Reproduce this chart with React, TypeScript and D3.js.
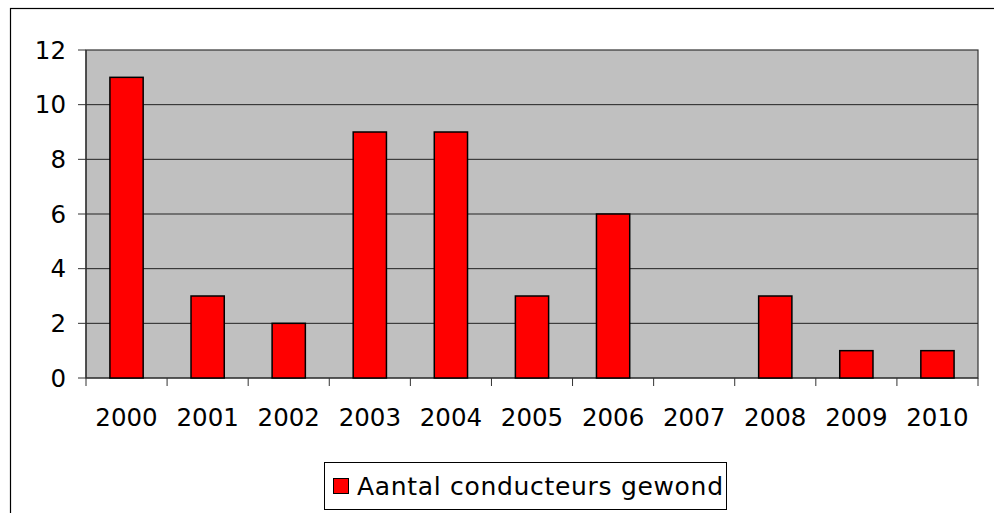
import React from "react";
import * as d3 from "d3";

const categories = ["2000", "2001", "2002", "2003", "2004", "2005", "2006", "2007", "2008", "2009", "2010"];
const values = [11, 3, 2, 9, 9, 3, 6, 0, 3, 1, 1];
const yTicks = [0, 2, 4, 6, 8, 10, 12];
const seriesName = "Aantal conducteurs gewond";

export default function App() {
  const W = 994, H = 513;
  const left = 86, right = 978, top = 50, bottom = 378;
  const x = d3.scaleBand().domain(categories).range([left, right]).paddingInner(0.59).paddingOuter(0.295);
  const xb = d3.scaleBand().domain(categories).range([left, right]);
  const y = d3.scaleLinear().domain([0, 12]).range([bottom, top]);
  const font = "Verdana, 'DejaVu Sans', sans-serif";
  return (
    <svg width={W} height={H} style={{ position: "absolute", left: 0, top: 0 }} fontFamily={font}>
      <rect x={0} y={0} width={W} height={H} fill="#fff" />
      <rect x={10.5} y={8.5} width={W + 20} height={H + 20} fill="none" stroke="#000" strokeWidth={1.2} />
      <rect x={left} y={top} width={right - left} height={bottom - top} fill="#C0C0C0" stroke="#333" strokeWidth={1.2} />
      {yTicks.map((t) => (
        <g key={t}>
          {t > 0 && t < 12 && <line x1={left} x2={right} y1={y(t)} y2={y(t)} stroke="#222" strokeWidth={1} />}
          <line x1={left - 8} x2={left} y1={y(t)} y2={y(t)} stroke="#333" strokeWidth={1} />
          <text x={66} y={y(t)} dy="0.36em" textAnchor="end" fontSize={24.5} fill="#000">{t}</text>
        </g>
      ))}
      <line x1={left} x2={left} y1={top} y2={bottom} stroke="#333" strokeWidth={1.2} />
      <line x1={left} x2={right} y1={bottom} y2={bottom} stroke="#333" strokeWidth={1.2} />
      {categories.map((c) => (
        <line key={"t" + c} x1={xb(c)!} x2={xb(c)!} y1={bottom} y2={bottom + 8} stroke="#333" strokeWidth={1} />
      ))}
      <line x1={right} x2={right} y1={bottom} y2={bottom + 8} stroke="#333" strokeWidth={1} />
      {categories.map((c, i) =>
        values[i] > 0 ? (
          <rect key={"b" + c} x={x(c)!} y={y(values[i])} width={x.bandwidth()} height={bottom - y(values[i])}
            fill="#FF0000" stroke="#000" strokeWidth={1.5} />
        ) : null
      )}
      {categories.map((c) => (
        <text key={"l" + c} x={xb(c)! + xb.bandwidth() / 2} y={426} textAnchor="middle" fontSize={24.5} fill="#000">{c}</text>
      ))}
      <rect x={324.5} y={462.5} width={402} height={47} fill="#fff" stroke="#000" strokeWidth={1} />
      <rect x={333.5} y={478.5} width={15} height={15} fill="#FF0000" stroke="#000" strokeWidth={1} />
      <text x={357} y={495} fontSize={25} textLength={366} lengthAdjust="spacing" fill="#000">{seriesName}</text>
    </svg>
  );
}
